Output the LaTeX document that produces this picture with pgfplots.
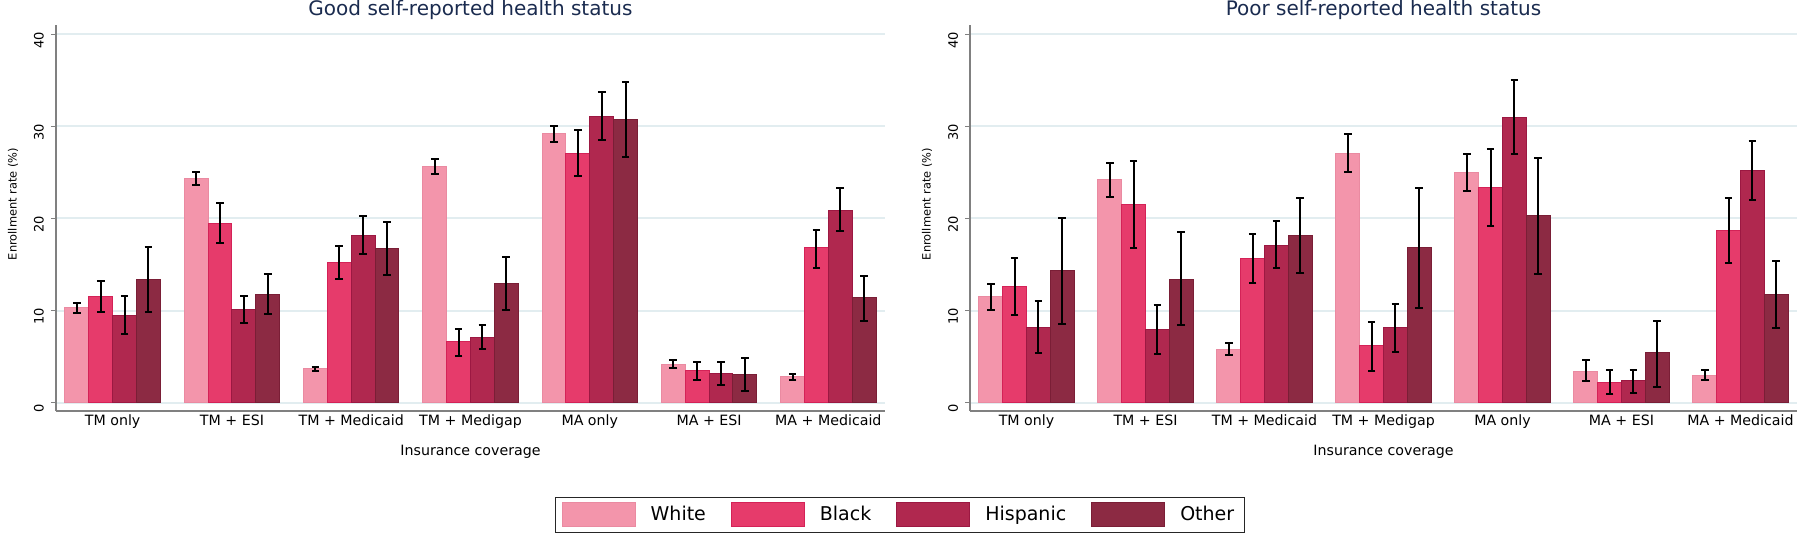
\documentclass[border=0pt]{standalone}
\usepackage{fontspec}
\setmainfont{DejaVu Sans}
\usepackage{pgfplots}
\usepackage{pgfplotstable}
\pgfplotsset{compat=1.18}

\definecolor{cW}{HTML}{F395AB}
\definecolor{cWd}{HTML}{EA8AA1}
\definecolor{cB}{HTML}{E63B6B}
\definecolor{cBd}{HTML}{D42257}
\definecolor{cH}{HTML}{B0284F}
\definecolor{cHd}{HTML}{9C1842}
\definecolor{cO}{HTML}{8C2A43}
\definecolor{cOd}{HTML}{7A1E36}
\definecolor{gridc}{HTML}{E2EDF0}
\definecolor{axc}{HTML}{808080}
\definecolor{titc}{HTML}{1A2B4F}

% g = coverage group; w/b/h/o = White/Black/Hispanic/Other; l/h suffix = CI low/high
\pgfplotstableread{
g w wl wh b bl bh h hl hh o ol oh
0 10.3 9.7 10.8 11.5 9.8 13.2 9.5 7.5 11.6 13.4 9.9 16.9
1 24.3 23.6 25.0 19.5 17.3 21.7 10.1 8.6 11.6 11.8 9.6 14.0
2 3.7 3.4 3.9 15.2 13.4 17.0 18.2 16.1 20.3 16.7 13.9 19.6
3 25.6 24.8 26.4 6.6 5.1 8.0 7.1 5.8 8.4 12.9 10.1 15.8
4 29.2 28.3 30.0 27.0 24.6 29.6 31.1 28.5 33.7 30.7 26.7 34.8
5 4.2 3.8 4.6 3.5 2.5 4.4 3.2 1.9 4.4 3.1 1.3 4.9
6 2.8 2.5 3.1 16.8 14.6 18.8 20.9 18.6 23.3 11.4 8.9 13.7
}\good

\pgfplotstableread{
g w wl wh b bl bh h hl hh o ol oh
0 11.5 10.1 12.9 12.6 9.5 15.7 8.2 5.4 11.0 14.4 8.5 20.1
1 24.2 22.3 26.0 21.5 16.8 26.2 8.0 5.3 10.6 13.4 8.4 18.5
2 5.8 5.2 6.5 15.6 13.0 18.3 17.1 14.6 19.7 18.2 14.1 22.2
3 27.1 25.0 29.2 6.2 3.4 8.8 8.2 5.5 10.7 16.8 10.3 23.3
4 25.0 23.0 27.0 23.4 19.2 27.5 31.0 27.0 35.0 20.3 14.0 26.6
5 3.4 2.4 4.6 2.2 0.9 3.5 2.4 1.1 3.6 5.4 1.7 8.9
6 3.0 2.5 3.5 18.7 15.2 22.2 25.2 22.0 28.4 11.7 8.1 15.4
}\poor

\pgfplotsset{
 panel/.style={
  scale only axis, height=193pt,
  xmin=-0.475, xmax=6.475, ymin=-0.9, ymax=41,
  axis x line*=bottom, axis y line*=left,
  axis line style={axc, line width=0.6pt},
  xtick={0,...,6},
  xticklabels={TM only, TM + ESI, TM + Medicaid, TM + Medigap, MA only, MA + ESI, MA + Medicaid},
  major x tick style={draw=none},
  ytick={0,10,20,30,40}, tick align=outside, major tick length=2.5pt,
  major y tick style={axc, line width=0.6pt},
  ymajorgrids, grid style={gridc, line width=1pt},
  /pgf/number format/assume math mode=true,
  yticklabel style={rotate=90, anchor=south, font=\fontsize{6.5pt}{7.8pt}\selectfont, xshift=-3pt},
  xticklabel style={font=\fontsize{7.1pt}{8.5pt}\selectfont, yshift=4pt},
  ylabel={Enrollment rate (\%)},
  ylabel style={at={(axis description cs:-0.0519,0.536)}, anchor=center, font=\fontsize{5.7pt}{6.8pt}\selectfont},
  xlabel={Insurance coverage},
  xlabel style={at={(axis description cs:0.5,-0.105)}, anchor=center, font=\fontsize{7.1pt}{8.5pt}\selectfont},
  every axis title shift=0pt,
  title style={at={(axis description cs:0.5,1.039)}, anchor=center, yshift=0pt, font=\fontsize{10pt}{12pt}\selectfont, text=titc},
  bar width=0.2,
  error bars/y dir=both, error bars/y explicit,
  error bars/error mark=-,
  error bars/error bar style={black, line width=1pt},
  error bars/error mark options={black, line width=1pt, mark size=1.9pt, rotate=90},
 },
 rbar/.style 2 args={ybar, bar shift=0pt, fill=#1, draw=#2, line width=0.5pt,
  legend image code/.code={\draw[fill=#1, draw=#2, line width=0.5pt] (0pt,-6pt) rectangle (36.5pt,6pt);}},
}

\begin{document}
\begin{tikzpicture}
\begin{axis}[panel, width=414.5pt, title={Good self-reported health status},
  legend style={at={(axis description cs:1.018,-0.269)}, anchor=center, legend columns=4,
    draw=black!85, line width=0.5pt, font=\fontsize{9.5pt}{11pt}\selectfont,
    inner xsep=3pt, inner ysep=2.5pt,
    /tikz/every odd column/.append style={column sep=5.5pt},
    /tikz/every even column/.append style={column sep=10.5pt}},
  legend cell align=left]
\addplot[rbar={cW}{cWd}] table[x expr=\thisrow{g}-0.3, y=w, y error plus expr=\thisrow{wh}-\thisrow{w}, y error minus expr=\thisrow{w}-\thisrow{wl}] {\good};
\addlegendentry{White}
\addplot[rbar={cB}{cBd}] table[x expr=\thisrow{g}-0.1, y=b, y error plus expr=\thisrow{bh}-\thisrow{b}, y error minus expr=\thisrow{b}-\thisrow{bl}] {\good};
\addlegendentry{Black}
\addplot[rbar={cH}{cHd}] table[x expr=\thisrow{g}+0.1, y=h, y error plus expr=\thisrow{hh}-\thisrow{h}, y error minus expr=\thisrow{h}-\thisrow{hl}] {\good};
\addlegendentry{Hispanic}
\addplot[rbar={cO}{cOd}] table[x expr=\thisrow{g}+0.3, y=o, y error plus expr=\thisrow{oh}-\thisrow{o}, y error minus expr=\thisrow{o}-\thisrow{ol}] {\good};
\addlegendentry{Other}
\end{axis}
\begin{axis}[panel, width=413.5pt, xshift=457pt, title={Poor self-reported health status}]
\addplot[rbar={cW}{cWd}] table[x expr=\thisrow{g}-0.3, y=w, y error plus expr=\thisrow{wh}-\thisrow{w}, y error minus expr=\thisrow{w}-\thisrow{wl}] {\poor};
\addplot[rbar={cB}{cBd}] table[x expr=\thisrow{g}-0.1, y=b, y error plus expr=\thisrow{bh}-\thisrow{b}, y error minus expr=\thisrow{b}-\thisrow{bl}] {\poor};
\addplot[rbar={cH}{cHd}] table[x expr=\thisrow{g}+0.1, y=h, y error plus expr=\thisrow{hh}-\thisrow{h}, y error minus expr=\thisrow{h}-\thisrow{hl}] {\poor};
\addplot[rbar={cO}{cOd}] table[x expr=\thisrow{g}+0.3, y=o, y error plus expr=\thisrow{oh}-\thisrow{o}, y error minus expr=\thisrow{o}-\thisrow{ol}] {\poor};
\end{axis}
\pgfresetboundingbox
\path[use as bounding box] (-28pt,-62pt) rectangle (872pt,205.5pt);
\end{tikzpicture}
\end{document}
